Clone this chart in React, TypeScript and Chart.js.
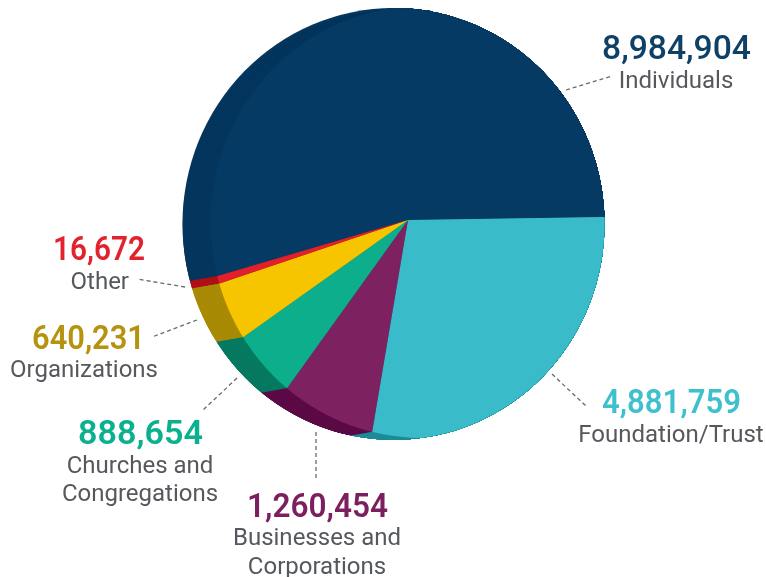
import React, { useEffect, useRef } from "react";
import { Chart, registerables } from "chart.js";

Chart.register(...registerables);

// Categories and the figures printed beside them
const categories = ["Individuals", "Foundation/Trust", "Businesses and Corporations", "Churches and Congregations", "Organizations", "Other"];
const printedValues = [8984904, 4881759, 1260454, 888654, 640231, 16672];
// Angular size of each wedge (degrees; the drawing is not strictly proportional)
const wedgeDegrees = [195.5, 100.5, 26.1, 18.9, 16.8, 2.2];

const faceColors = ["#053a64", "#3abbc9", "#7e2160", "#0cae8c", "#f6c500", "#e0202b"];
const sideColors = ["#04365e", "#1d8c98", "#5c0b47", "#067a60", "#a98a05", "#b00f18"];
const valueColors = ["#0f4066", "#3fc0cf", "#7c1f5f", "#0bb08f", "#b5930f", "#e2232e"];
const LABEL_GRAY = "#55585c";

type Lay = { align: CanvasTextAlign; x: number; w: number; weight: number; vy: number; lx: number; lines: string[]; ly: number[]; leader: number[] };
const layout: Lay[] = [
  { align: "center", x: 676.5, w: 149, weight: 500, vy: 58.5, lx: 676, lines: ["Individuals"], ly: [87.5], leader: [566, 90, 612, 76] },
  { align: "center", x: 671.5, w: 139, weight: 600, vy: 413, lx: 671, lines: ["Foundation/Trust"], ly: [442], leader: [552, 374, 587, 407] },
  { align: "center", x: 317.5, w: 141, weight: 600, vy: 517, lx: 317, lines: ["Businesses and", "Corporations"], ly: [545, 574], leader: [316, 432, 316, 480] },
  { align: "center", x: 140.5, w: 125, weight: 600, vy: 444, lx: 140, lines: ["Churches and", "Congregations"], ly: [473, 501], leader: [237, 378, 202, 411] },
  { align: "right", x: 145, w: 113, weight: 600, vy: 349, lx: 158, lines: ["Organizations"], ly: [377], leader: [197, 320, 152, 337] },
  { align: "right", x: 145, w: 92, weight: 600, vy: 260, lx: 129, lines: ["Other"], ly: [289], leader: [185, 287, 137, 279] },
];

const APEX_ROTATION = 253.6;
const OUTER = { x: 393.5, y: 224, rx: 211, ry: 216 };
const EXTRUDE = { dx: -28, dy: 5, steps: 32 };
const FACE = { x: 421.5, y: 222, rx: 211, ry: 216 };

const clipEllipse = (ctx: CanvasRenderingContext2D, e: { x: number; y: number; rx: number; ry: number }) => {
  ctx.beginPath();
  ctx.ellipse(e.x, e.y, e.rx, e.ry, 0, 0, Math.PI * 2);
  ctx.clip();
};

const drawSide = (ctx: CanvasRenderingContext2D, arcs: any[]) => {
  arcs.forEach((arc: any, i: number) => {
    const original = arc.options;
    arc.options = { ...original, backgroundColor: sideColors[i], borderWidth: 0 };
    arc.draw(ctx);
    arc.options = original;
  });
};

const extrudedPie = {
  id: "extrudedPie",
  beforeDatasetsDraw(chart: any) {
    const ctx: CanvasRenderingContext2D = chart.ctx;
    const arcs = chart.getDatasetMeta(0).data;
    ctx.save();
    clipEllipse(ctx, OUTER);
    // rearmost layer fills the whole silhouette
    ctx.save();
    ctx.translate(EXTRUDE.dx, EXTRUDE.dy);
    drawSide(ctx, arcs);
    ctx.restore();
    for (let s = EXTRUDE.steps; s > 0; s--) {
      const t = s / EXTRUDE.steps;
      ctx.save();
      ctx.translate(EXTRUDE.dx * t, EXTRUDE.dy * t);
      clipEllipse(ctx, FACE);
      drawSide(ctx, arcs);
      ctx.restore();
    }
    clipEllipse(ctx, FACE);
  },
  afterDatasetsDraw(chart: any) {
    chart.ctx.restore();
  },
  afterDraw(chart: any) {
    const ctx: CanvasRenderingContext2D = chart.ctx;
    ctx.save();
    layout.forEach((l, i) => {
      ctx.setLineDash([4, 3]);
      ctx.lineWidth = 1.3;
      ctx.strokeStyle = "#666a6e";
      ctx.beginPath();
      ctx.moveTo(l.leader[0], l.leader[1]);
      ctx.lineTo(l.leader[2], l.leader[3]);
      ctx.stroke();
      ctx.setLineDash([]);

      ctx.textBaseline = "alphabetic";
      ctx.fillStyle = valueColors[i];
      ctx.font = `${l.weight} 34px Roboto, sans-serif`;
      ctx.textAlign = l.align;
      const text = printedValues[i].toLocaleString("en-US");
      const sx = l.w / ctx.measureText(text).width;
      ctx.save();
      ctx.translate(l.x, l.vy);
      ctx.scale(sx, 1);
      ctx.fillText(text, 0, 0);
      ctx.restore();

      ctx.fillStyle = LABEL_GRAY;
      ctx.font = "400 24px Roboto, sans-serif";
      ctx.textAlign = l.align;
      l.lines.forEach((line, k) => ctx.fillText(line, l.lx, l.ly[k]));
    });
    ctx.restore();
  },
};

export default function App() {
  const ref = useRef<HTMLCanvasElement>(null);
  useEffect(() => {
    const chart = new Chart(ref.current!, {
      type: "pie",
      data: {
        labels: categories,
        datasets: [{ data: wedgeDegrees, backgroundColor: faceColors, borderWidth: 0, radius: 330, clip: false } as any],
      },
      options: {
        responsive: false,
        animation: false,
        events: [],
        rotation: APEX_ROTATION,
        layout: { padding: { left: 100, right: 50, top: 0, bottom: 137 } },
        plugins: { legend: { display: false }, tooltip: { enabled: false } },
      },
      plugins: [extrudedPie],
    });
    return () => chart.destroy();
  }, []);
  return (
    <div style={{ position: "absolute", left: 0, top: 0, width: 766, height: 577, background: "#fff" }}>
      <canvas ref={ref} width={766} height={577} style={{ display: "block" }} />
    </div>
  );
}
